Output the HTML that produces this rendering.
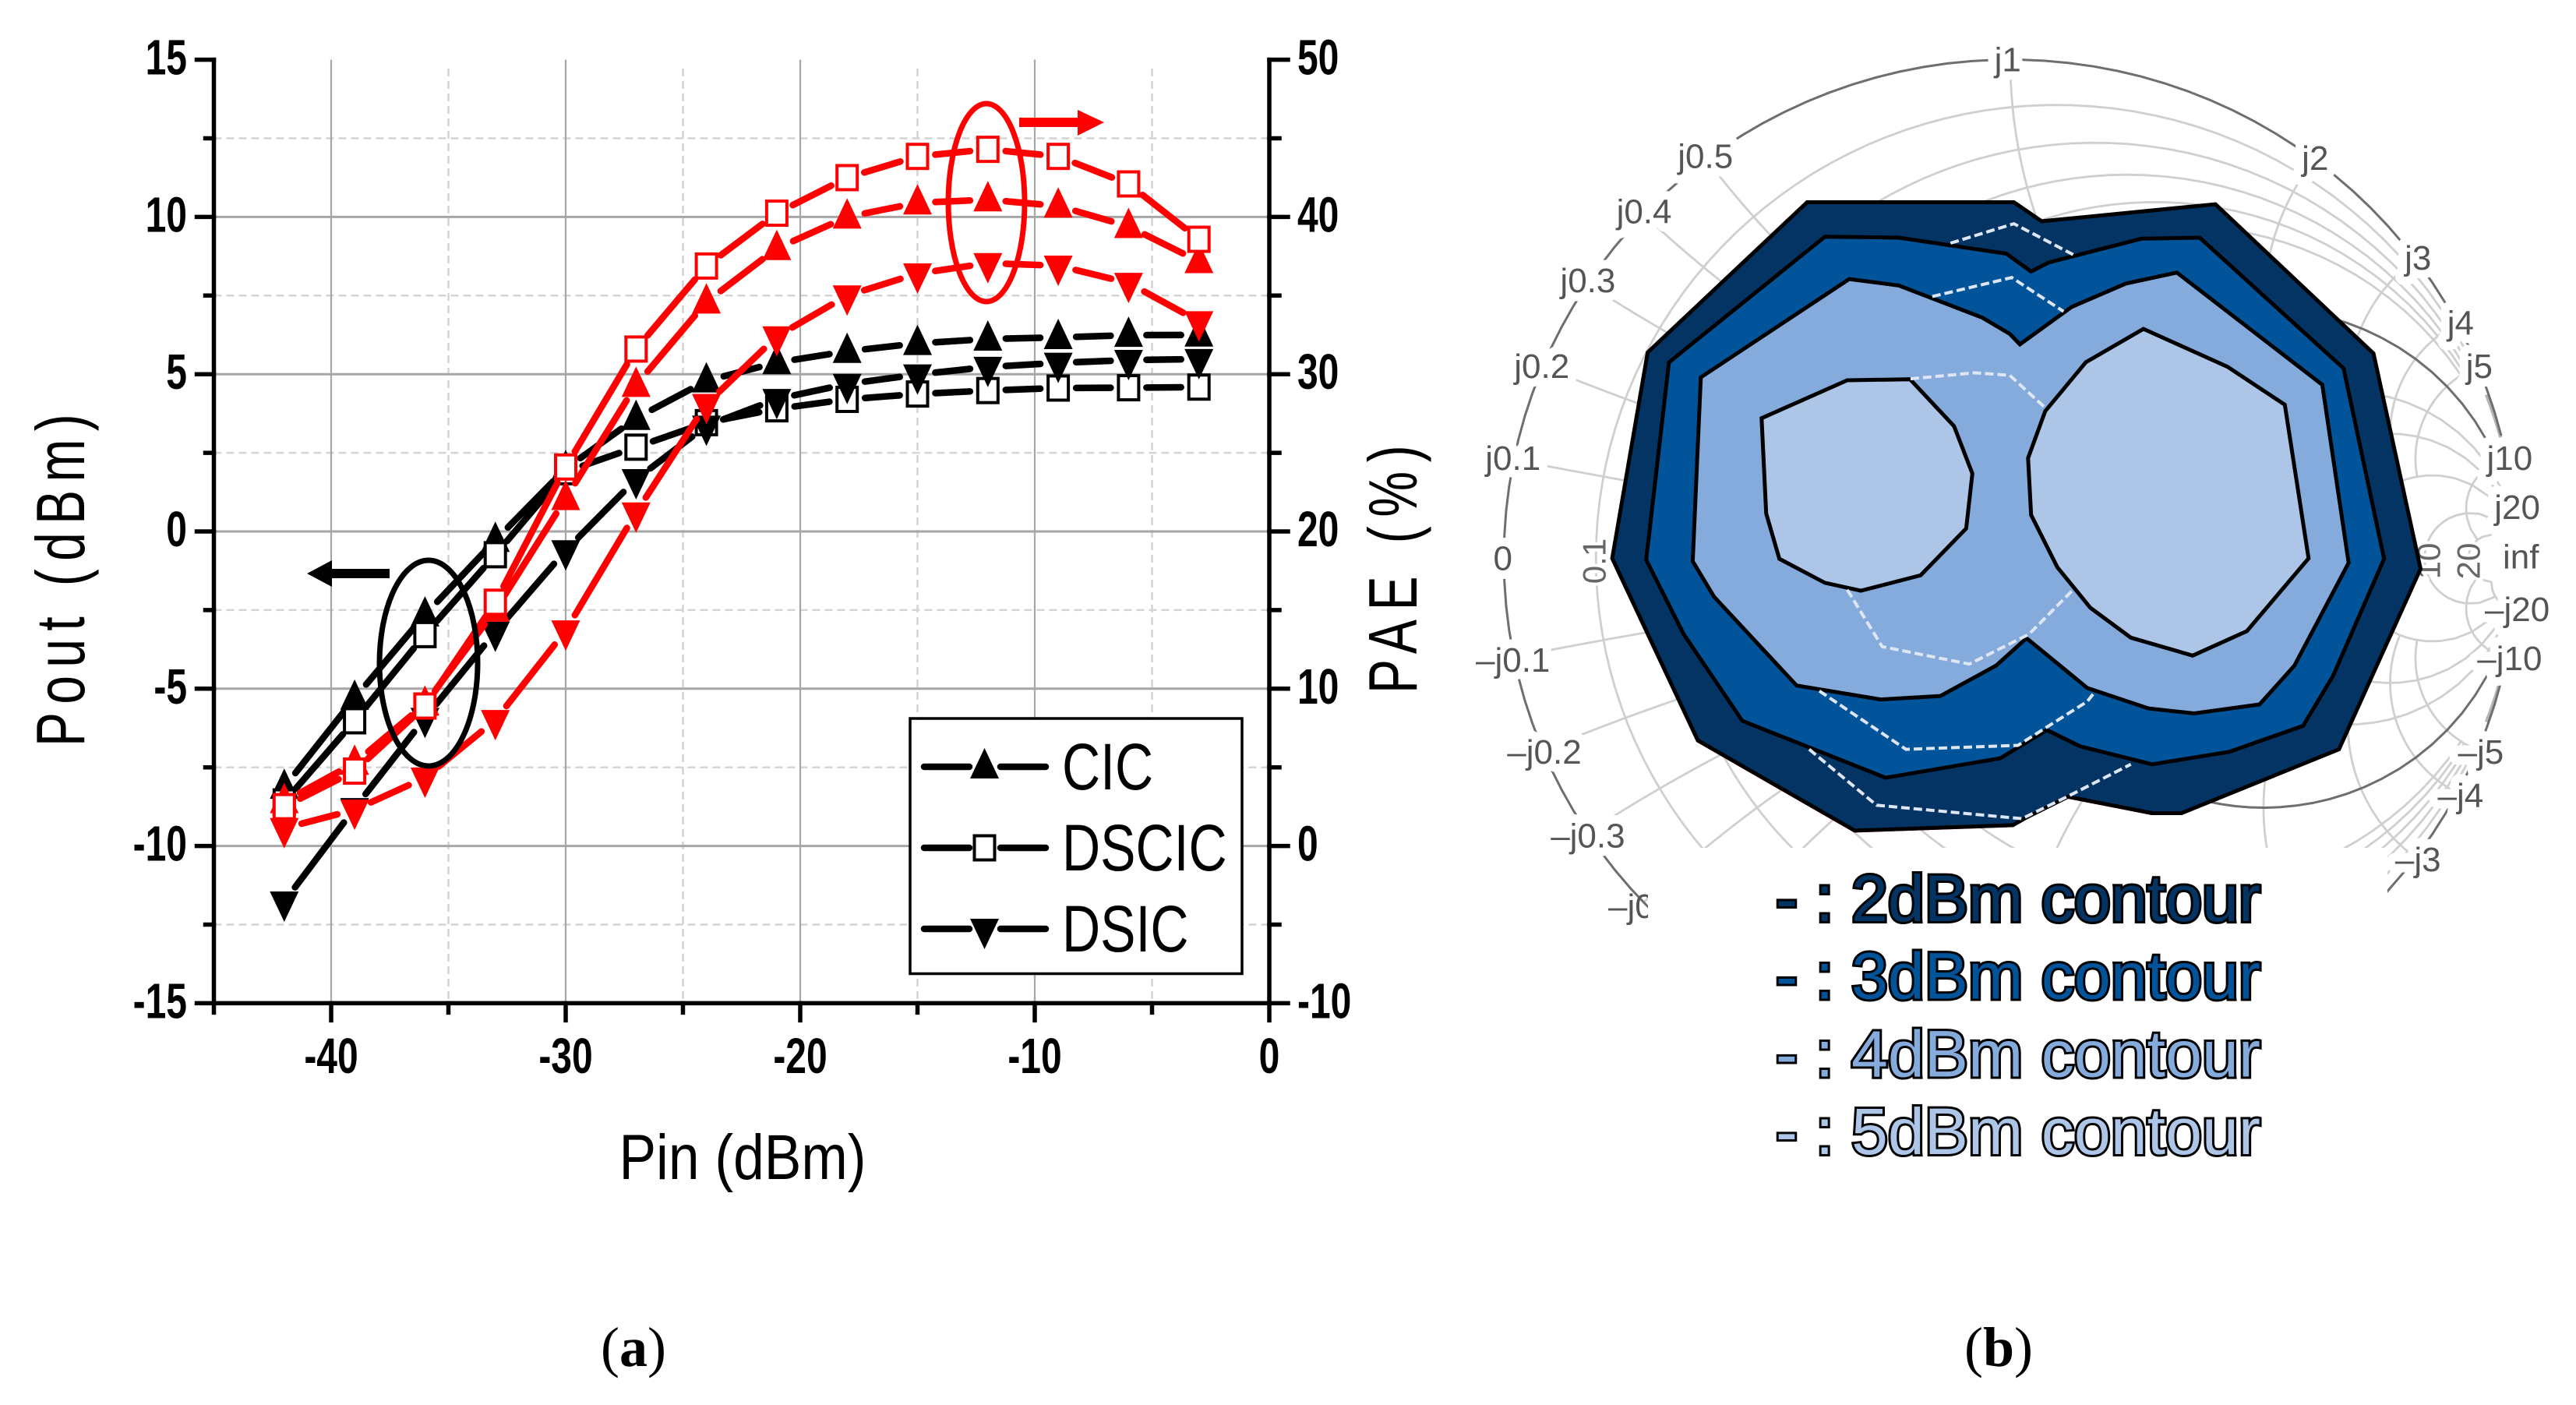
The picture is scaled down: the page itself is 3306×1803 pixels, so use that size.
<!DOCTYPE html>
<html lang="en">
<head>
<meta charset="utf-8">
<title>Pout and PAE versus Pin with load-pull contours</title>
<style>
html,body{margin:0;padding:0;background:#fff}
svg{display:block}
text{font-family:"Liberation Sans",Arial,sans-serif}
</style>
</head>
<body>
<svg id="fig" xmlns="http://www.w3.org/2000/svg" width="3306" height="1803" viewBox="0 0 3306 1803">
  <rect x="0" y="0" width="3306" height="1803" fill="#fff"/>
  <g id="panelA"></g>
  <g id="panelB"></g>
  <text x="813" y="1753" font-size="72" text-anchor="middle" style="font-family:'Liberation Serif',serif">(<tspan font-weight="bold">a</tspan>)</text>
  <text x="2565" y="1753" font-size="72" text-anchor="middle" style="font-family:'Liberation Serif',serif">(<tspan font-weight="bold">b</tspan>)</text>
</svg>
<script>
// ---------- Panel (a) data ----------
const pinValues = [-42,-39,-36,-33,-30,-27,-24,-21,-18,-15,-12,-9,-6,-3];
const poutCIC   = [-8.13,-5.3,-2.65,-0.28,2.0,3.6,4.79,5.37,5.73,5.98,6.12,6.17,6.24,6.25];
const poutDSCIC = [-8.6,-6.02,-3.28,-0.74,1.9,2.68,3.46,3.9,4.2,4.37,4.48,4.56,4.57,4.59];
const poutDSIC  = [-11.77,-8.8,-5.93,-3.19,-0.6,1.66,3.36,4.21,4.69,4.99,5.23,5.36,5.45,5.48];
const paeCIC    = [2.83,5.27,9.03,15.0,22.1,29.3,34.6,38.0,40.0,40.9,41.1,40.7,39.4,37.17];
const paeDSCIC  = [2.5,4.76,8.9,15.5,24.1,31.6,36.88,40.24,42.5,43.85,44.3,43.85,42.1,38.58];
const paeDSIC   = [1.13,2.3,4.34,8.0,13.7,21.2,28.1,32.4,35.0,36.4,37.06,36.9,35.8,33.36];
const pinMajorTicks = [-40,-30,-20,-10,0];
const pinMinorTicks = [-45,-35,-25,-15,-5];
const poutMajorTicks = [15,10,5,0,-5,-10,-15];
const poutMinorTicks = [12.5,7.5,2.5,-2.5,-7.5,-12.5];
const paeMajorTicks = [50,40,30,20,10,0,-10];
const paeMinorTicks = [45,35,25,15,5,-5];
const legendLabels = ['CIC','DSCIC','DSIC'];

// ---------- Panel (b) data: reflection-coefficient plane (re, im) ----------
const contour2dBm = [[-0.401,0.714],[0.007,0.714],[0.062,0.676],[0.405,0.710],[0.717,0.411],[0.810,-0.021],[0.649,-0.383],[0.338,-0.511],[0.280,-0.511],[0.114,-0.478],[0.031,-0.520],[0.005,-0.535],[-0.307,-0.546],[-0.617,-0.365],[-0.786,0],[-0.716,0.413]];
const contour3dBm = [[-0.366,0.645],[-0.220,0.643],[-0.008,0.611],[0.041,0.575],[0.075,0.593],[0.259,0.641],[0.374,0.643],[0.658,0.381],[0.738,-0.001],[0.637,-0.236],[0.578,-0.336],[0.432,-0.388],[0.280,-0.413],[0.138,-0.377],[0.072,-0.344],[-0.020,-0.401],[-0.246,-0.440],[-0.529,-0.326],[-0.645,-0.152],[-0.719,-0.003],[-0.674,0.393]];
const contour4dBm = [[-0.318,0.560],[-0.220,0.547],[-0.056,0.483],[-0.001,0.450],[0.019,0.429],[0.121,0.504],[0.228,0.551],[0.329,0.573],[0.616,0.348],[0.668,-0.009],[0.561,-0.215],[0.492,-0.293],[0.363,-0.311],[0.273,-0.301],[0.152,-0.260],[0.032,-0.160],[-0.028,-0.215],[-0.138,-0.276],[-0.256,-0.283],[-0.422,-0.255],[-0.585,-0.077],[-0.627,-0.006],[-0.611,0.363]];
const contour5dBmLeft = [[-0.491,0.281],[-0.322,0.357],[-0.198,0.359],[-0.111,0.265],[-0.075,0.170],[-0.087,0.060],[-0.177,-0.034],[-0.295,-0.065],[-0.366,-0.049],[-0.456,-0.001],[-0.482,0.090]];
const contour5dBmRight = [[0.263,0.460],[0.429,0.384],[0.542,0.308],[0.589,0],[0.467,-0.146],[0.360,-0.195],[0.238,-0.159],[0.158,-0.099],[0.093,-0.018],[0.041,0.087],[0.035,0.201],[0.069,0.295],[0.149,0.393]];
const dashedA = [[-0.118,0.632],[0.007,0.671],[0.124,0.609]];
const dashedB = [[-0.154,0.525],[0.003,0.563],[0.105,0.495]];
const dashedC = [[-0.197,0.360],[-0.071,0.372],[-0.001,0.367],[0.070,0.301]];
const dashedD = [[-0.322,-0.063],[-0.253,-0.177],[-0.081,-0.212],[0.037,-0.152],[0.124,-0.063]];
const dashedE = [[-0.377,-0.266],[-0.206,-0.383],[0.015,-0.375],[0.152,-0.287],[0.166,-0.269]];
const dashedF = [[-0.397,-0.383],[-0.264,-0.495],[0.023,-0.522],[0.114,-0.477],[0.238,-0.413]];
const resistanceValues = [0.1,0.2,0.3,0.4,0.5,2,3,5,10,20];
const reactanceValues = [0.1,0.2,0.3,0.4,0.5,1,2,3,4,5,10,20];

const NS = 'http://www.w3.org/2000/svg';
const panelA = document.getElementById('panelA');
const panelB = document.getElementById('panelB');
function svgEl(parent, tag, attrs) {
  const e = document.createElementNS(NS, tag);
  for (const k in attrs) e.setAttribute(k, attrs[k]);
  parent.appendChild(e);
  return e;
}
// Axis functions for panel (a)
function xPin(v) { return 1629 + 30.1 * v; }
function yPout(v) { return 682 - 40.36 * v; }
function yPae(v) { return 682 - 20.18 * (v - 20); }

// Minor grid
poutMinorTicks.forEach(function (v) {
  const l = svgEl(panelA, 'line', {x1: xPin(-45), x2: xPin(0), y1: yPout(v), y2: yPout(v), stroke: '#d4d4d4', 'stroke-width': 2.5, 'stroke-dasharray': '10 6'});
  
  
});
pinMinorTicks.slice(1).forEach(function (v) {
  const l = svgEl(panelA, 'line', {x1: xPin(v), x2: xPin(v), y1: 88, y2: yPout(-15), stroke: '#d4d4d4', 'stroke-width': 2.5, 'stroke-dasharray': '10 6'});
  
  
});
// Major grid
poutMajorTicks.slice(1, -1).forEach(function (v) {
  const l = svgEl(panelA, 'line', {x1: xPin(-45), x2: xPin(0), y1: yPout(v), y2: yPout(v), stroke: '#a6a6a6', 'stroke-width': 3});
  
  
});
pinMajorTicks.slice(0, -1).forEach(function (v) {
  const l = svgEl(panelA, 'line', {x1: xPin(v), x2: xPin(v), y1: yPout(15), y2: yPout(-15), stroke: '#a6a6a6', 'stroke-width': 2.2});
  
  
});

// Axes
const axisStroke = {stroke: '#000', 'stroke-width': 5.5};
function axisLine(x1, y1, x2, y2) {
  return svgEl(panelA, 'line', Object.assign({x1: x1, y1: y1, x2: x2, y2: y2, 'stroke-linecap': 'square'}, axisStroke));
}
const leftAxis = axisLine(xPin(-45), yPout(15), xPin(-45), yPout(-15));


const rightAxis = axisLine(xPin(0), yPout(15), xPin(0), yPout(-15));


const bottomAxis = axisLine(xPin(-45), yPout(-15), xPin(0), yPout(-15));



function condensedText(str, x, y, size, anchor, sx, weight) {
  const t = svgEl(panelA, 'text', {transform: 'translate(' + x + ',' + y + ') scale(' + sx + ',1)', 'font-size': size, 'text-anchor': anchor, 'font-weight': weight, fill: '#000'});
  t.textContent = str;
  return t;
}
poutMajorTicks.forEach(function (v) {
  const tick = axisLine(xPin(-45) - 22, yPout(v), xPin(-45), yPout(v));
  
  
  const lab = condensedText(String(v), 240, yPout(v) + 19, 64, 'end', 0.75, 'bold');
  
  
});
poutMinorTicks.forEach(function (v) {
  const tick = axisLine(xPin(-45) - 11, yPout(v), xPin(-45), yPout(v));
  
  
});
paeMajorTicks.forEach(function (v) {
  const tick = axisLine(xPin(0), yPae(v), xPin(0) + 24, yPae(v));
  
  
  const lab = condensedText(String(v), 1665, yPae(v) + 19, 64, 'start', 0.75, 'bold');
  
  
});
paeMinorTicks.forEach(function (v) {
  const tick = axisLine(xPin(0), yPae(v), xPin(0) + 13, yPae(v));
  
  
});
pinMajorTicks.forEach(function (v) {
  const tick = axisLine(xPin(v), yPout(-15), xPin(v), yPout(-15) + 22);
  
  
  const lab = condensedText(String(v), xPin(v), 1377, 64, 'middle', 0.75, 'bold');
  
  
});
pinMinorTicks.forEach(function (v) {
  const tick = axisLine(xPin(v), yPout(-15), xPin(v), yPout(-15) + 12);
  
  
});

// Markers
function drawMarker(parent, kind, cx, cy, color) {
  let m;
  if (kind === 'up') {
    m = svgEl(parent, 'polygon', {points: (cx - 18.5) + ',' + (cy + 15) + ' ' + cx + ',' + (cy - 24) + ' ' + (cx + 18.5) + ',' + (cy + 15), fill: color});
  } else if (kind === 'down') {
    m = svgEl(parent, 'polygon', {points: (cx - 18.5) + ',' + (cy - 13) + ' ' + cx + ',' + (cy + 26) + ' ' + (cx + 18.5) + ',' + (cy - 13), fill: color});
  } else {
    m = svgEl(parent, 'rect', {x: cx - 13, y: cy - 15.5, width: 26, height: 31, fill: '#fff', stroke: color, 'stroke-width': 4});
  }
  return m;
}
function drawSeries(values, yFn, kind, color, name) {
  const g = svgEl(panelA, 'g', {});
  
  
  const gap = 23;
  for (let i = 0; i < pinValues.length - 1; i++) {
    const x1 = xPin(pinValues[i]), y1 = yFn(values[i]);
    const x2 = xPin(pinValues[i + 1]), y2 = yFn(values[i + 1]);
    const len = Math.hypot(x2 - x1, y2 - y1);
    const ux = (x2 - x1) / len, uy = (y2 - y1) / len;
    const seg = svgEl(g, 'line', {x1: x1 + ux * gap, y1: y1 + uy * gap, x2: x2 - ux * gap, y2: y2 - uy * gap, stroke: color, 'stroke-width': 8.5, 'stroke-linecap': 'round'});
    
    
  }
  values.forEach(function (v, i) {
    const m = drawMarker(g, kind, xPin(pinValues[i]), yFn(v), color);
    
    
  });
}
drawSeries(poutCIC, yPout, 'up', '#000', 'pout-cic-series');
drawSeries(poutDSCIC, yPout, 'sq', '#000', 'pout-dscic-series');
drawSeries(poutDSIC, yPout, 'down', '#000', 'pout-dsic-series');
drawSeries(paeDSIC, yPae, 'down', '#f00', 'pae-dsic-series');
drawSeries(paeCIC, yPae, 'up', '#f00', 'pae-cic-series');
drawSeries(paeDSCIC, yPae, 'sq', '#f00', 'pae-dscic-series');

// Annotations
const blackEllipse = svgEl(panelA, 'ellipse', {cx: 550, cy: 851, rx: 63, ry: 132, fill: 'none', stroke: '#000', 'stroke-width': 7});


const redEllipse = svgEl(panelA, 'ellipse', {cx: 1266, cy: 260, rx: 49, ry: 127, fill: 'none', stroke: '#f00', 'stroke-width': 7});


const blackArrow = svgEl(panelA, 'polygon', {points: '394,736 426,719 426,730 500,730 500,742 426,742 426,753', fill: '#000'});


const redArrow = svgEl(panelA, 'polygon', {points: '1417,157 1383,141 1383,151 1308,151 1308,163 1383,163 1383,174', fill: '#f00'});



// Legend
const legend = svgEl(panelA, 'g', {});


const legendBox = svgEl(legend, 'rect', {x: 1168, y: 922, width: 426, height: 327.5, fill: '#fff', stroke: '#000', 'stroke-width': 3.5});


const legendKinds = ['up','sq','down'];
legendLabels.forEach(function (lab, i) {
  const y = 984 + i * 104;
  const l1 = svgEl(legend, 'line', {x1: 1186, x2: 1244, y1: y, y2: y, stroke: '#000', 'stroke-width': 8.5, 'stroke-linecap': 'round'});
  
  
  const l2 = svgEl(legend, 'line', {x1: 1284, x2: 1342, y1: y, y2: y, stroke: '#000', 'stroke-width': 8.5, 'stroke-linecap': 'round'});
  
  
  const m = drawMarker(legend, legendKinds[i], 1263.5, y, '#000');
  
  
  const t = svgEl(legend, 'text', {transform: 'translate(1363,' + (y + 29) + ') scale(0.81,1)', 'font-size': 84, fill: '#000'});
  t.textContent = lab;
  
  
});

// Axis titles
const pinTitle = condensedText('Pin (dBm)', 953, 1513, 82, 'middle', 0.87, 'normal');


const poutTitle = svgEl(panelA, 'text', {transform: 'translate(108,958) rotate(-90) scale(0.75,1)', 'font-size': 88, textLength: 569, lengthAdjust: 'spacing', fill: '#000'});
poutTitle.textContent = 'Pout (dBm)';


const paeTitle = svgEl(panelA, 'text', {transform: 'translate(1818,890) rotate(-90) scale(0.75,1)', 'font-size': 88, textLength: 425, lengthAdjust: 'spacing', fill: '#000'});
paeTitle.textContent = 'PAE (%)';



// ---------- Panel (b) ----------
function sx(re) { return 2580 + 650 * re; }
function sy(im) { return 716.5 - 640 * im; }
function gamma(r, x) {
  const d = (r + 1) * (r + 1) + x * x;
  return [(r * r + x * x - 1) / d, 2 * x / d];
}
function toPoints(arr) {
  return arr.map(function (p) { return sx(p[0]).toFixed(1) + ',' + sy(p[1]).toFixed(1); }).join(' ');
}
function resistancePath(r, xMax) {
  const pts = [];
  const steps = 120;
  const aMax = Math.atan(xMax);
  for (let i = 0; i <= steps; i++) {
    pts.push(gamma(r, Math.tan(-aMax + 2 * aMax * i / steps)));
  }
  return toPoints(pts);
}
function reactancePath(x, rMax) {
  const pts = [];
  const steps = 80;
  const aMax = Math.atan(rMax);
  for (let i = 0; i <= steps; i++) {
    pts.push(gamma(Math.tan(aMax * i / steps), x));
  }
  return toPoints(pts);
}
const grid = svgEl(panelB, 'g', {fill: 'none'});


resistanceValues.forEach(function (r) {
  const c = svgEl(grid, 'polyline', {points: resistancePath(r, r < 1 ? 5 : 20), stroke: '#cfcfcf', 'stroke-width': 2.8});
  
  
});
reactanceValues.forEach(function (x) {
  [x, -x].forEach(function (sv) {
    const c = svgEl(grid, 'polyline', {points: reactancePath(sv, x < 2 ? 1 : (x < 10 ? 5 : 20)), stroke: '#cfcfcf', 'stroke-width': 2.8});
    
    
  });
});
const hatchRes = [0.02,0.04,0.06,0.08,0.1];
[1, -1].forEach(function (sign) {
  hatchRes.forEach(function (r) {
    const pts = [];
    for (let i = 0; i <= 10; i++) { pts.push(gamma(r, sign * (5.9 + 2.2 * i / 10))); }
    const h = svgEl(grid, 'polyline', {points: toPoints(pts), stroke: '#b5b5b5', 'stroke-width': 3});
    
    
  });
});
const unitCircle = svgEl(grid, 'polyline', {points: resistancePath(1, 8), stroke: '#6e6e6e', 'stroke-width': 3});


const rim = svgEl(grid, 'polyline', {points: resistancePath(0, 8), stroke: '#6e6e6e', 'stroke-width': 3});



// Rim and resistance labels
const rimLabels = ['j1','j0.5','j0.4','j0.3','j0.2','j0.1','0','–j0.1','–j0.2','–j0.3','j2','j3','j4','j5','j10','j20','inf','–j20','–j10','–j5','–j4','–j3'];
const rimLabelRe = [-0.005,-0.602,-0.723,-0.834,-0.925,-0.982,-1.002,-0.982,-0.920,-0.834,0.602,0.805,0.889,0.926,0.986,1.001,1.008,1.001,0.986,0.929,0.889,0.805];
const rimLabelIm = [1.0,0.806,0.695,0.557,0.385,0.201,0.0,-0.204,-0.388,-0.556,0.802,0.602,0.472,0.385,0.201,0.102,0.003,-0.102,-0.201,-0.388,-0.476,-0.604];
rimLabels.forEach(function (s, i) {
  const t = svgEl(panelB, 'text', {x: sx(rimLabelRe[i]), y: sy(rimLabelIm[i]) + 15, 'font-size': 44, 'text-anchor': 'middle', fill: '#555', stroke: '#fff', 'stroke-width': 22, 'paint-order': 'stroke', 'stroke-linejoin': 'round'});
  t.textContent = s;
  
  
});
const rLabels = ['0.1','10','20'];
const rLabelRe = [-0.822,0.825,0.904];
rLabels.forEach(function (s, i) {
  const t = svgEl(panelB, 'text', {transform: 'translate(' + (sx(rLabelRe[i]) + 15) + ',720) rotate(-90)', 'font-size': 42, 'text-anchor': 'middle', fill: '#666', stroke: '#fff', 'stroke-width': 8, 'paint-order': 'stroke'});
  t.textContent = s;
  
  
});
const clippedLabel = svgEl(panelB, 'text', {x: 2064, y: 1178, 'font-size': 44, fill: '#555'});
clippedLabel.textContent = '–j0.4';



// Contours
const redSliver = svgEl(panelB, 'polygon', {points: toPoints(contour2dBm), fill: 'none', stroke: '#f00', 'stroke-width': 3, transform: 'translate(-0.5,1)'});


const contourStyle = {stroke: '#000', 'stroke-width': 5, 'stroke-linejoin': 'miter'};
function drawContour(arr, fill) {
  const p = svgEl(panelB, 'polygon', Object.assign({points: toPoints(arr), fill: fill}, contourStyle));
  return p;
}
const c2 = drawContour(contour2dBm, '#033464');


const c3 = drawContour(contour3dBm, '#01539a');


const c4 = drawContour(contour4dBm, '#84abdc');


const c5a = drawContour(contour5dBmLeft, '#adc6e8');


const c5b = drawContour(contour5dBmRight, '#adc6e8');


[dashedA, dashedB, dashedC, dashedD, dashedE, dashedF].forEach(function (arr) {
  const d = svgEl(panelB, 'polyline', {points: toPoints(arr), fill: 'none', stroke: '#dde6f2', 'stroke-width': 4, 'stroke-dasharray': '11 5'});
  
  
});

// White block behind the contour legend
const legendMask = svgEl(panelB, 'rect', {x: 2115, y: 1088, width: 949, height: 420, fill: '#fff'});



// Contour legend
const contourLegendLevels = ['2dBm contour','3dBm contour','4dBm contour','5dBm contour'];
const contourLegendColors = ['#033464','#01539a','#84abdc','#adc6e8'];
contourLegendLevels.forEach(function (s, i) {
  const base = 1182 + i * 99.7;
  const color = contourLegendColors[i];
  const attrs = {'font-size': 84, fill: color, stroke: '#000', 'stroke-width': 6, 'paint-order': 'stroke'};
  const row = svgEl(panelB, 'g', {});
  
  
  const dash = svgEl(row, 'text', Object.assign({x: 2279, y: base}, attrs));
  dash.textContent = '-';
  
  
  const colon = svgEl(row, 'text', Object.assign({x: 2330, y: base}, attrs));
  colon.textContent = ':';
  
  
  const label = svgEl(row, 'text', Object.assign({x: 2376, y: base, textLength: 525, lengthAdjust: 'spacingAndGlyphs'}, attrs));
  label.textContent = s;
  
  
});
</script>
</body>
</html>
